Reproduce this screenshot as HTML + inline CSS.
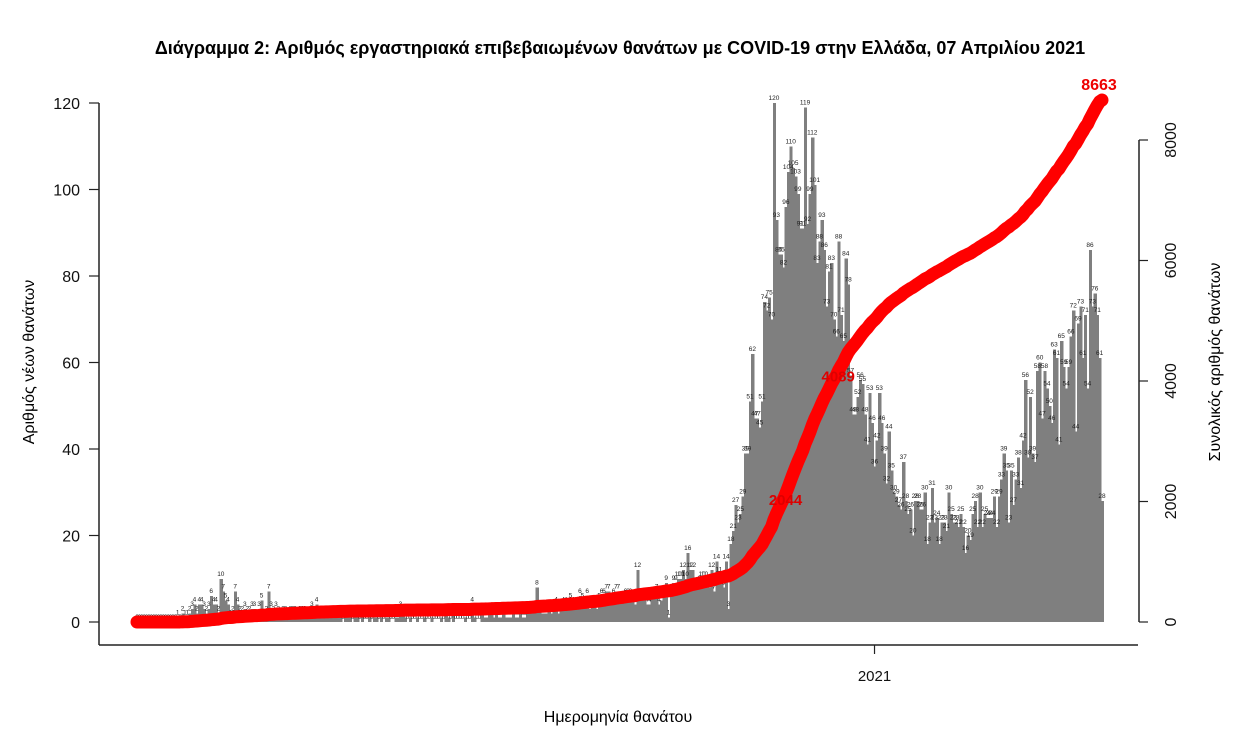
<!DOCTYPE html>
<html><head><meta charset="utf-8"><style>
body{margin:0;background:#fff;}
svg text{font-family:"Liberation Sans","DejaVu Sans",sans-serif;}
</style></head><body>
<svg id="chart" width="1244" height="739" viewBox="0 0 1244 739" xmlns="http://www.w3.org/2000/svg">
<text x="620" y="54" text-anchor="middle" font-size="18" font-weight="bold" fill="#000">Διάγραμμα 2: Αριθμός εργαστηριακά επιβεβαιωμένων θανάτων με COVID-19 στην Ελλάδα, 07 Απριλίου 2021</text>
<g id="bars" shape-rendering="crispEdges"></g>
<g id="barlabels"></g>
<g id="cum"></g>
<g id="axes"></g>
<text x="618" y="722" text-anchor="middle" font-size="16" fill="#000">Ημερομηνία θανάτου</text>
<text transform="translate(34,362) rotate(-90)" text-anchor="middle" font-size="16" fill="#000">Αριθμός νέων θανάτων</text>
<text transform="translate(1220,362) rotate(-90)" text-anchor="middle" font-size="16" fill="#000">Συνολικός αριθμός θανάτων</text>
</svg>
<script>
const daily = [
0,0,0,0,0,0,0,0,0,0,0,0,0,0,0,0,0,
1,0,2,1,1,2,3,4,2,4,4,3,2,3,
6,4,4,2,10,7,5,4,1,2,7,4,2,2,3,2,2,3,3,1,3,5,1,2,7,3,2,3,2,1,2,2,1,2,2,2,1,2,2,2,
1,1,3,1,4,1,2,1,1,1,2,1,1,2,1,0,1,2,1,0,1,1,0,1,0,
0,1,0,1,1,0,1,0,1,1,0,0,1,1,3,2,1,0,1,0,0,1,0,0,1,0,0,1,0,0,0,1,0,2,1,0,2,0,0,0,0,1,0,0,4,
1,0,0,2,1,1,2,2,1,2,1,1,2,1,1,1,2,1,1,2,1,1,2,2,3,3,8,3,2,2,
2,3,2,3,4,2,3,4,4,3,5,4,3,4,6,5,4,6,3,4,4,3,5,6,6,7,7,5,6,
7,7,5,5,6,6,6,5,4,12,5,5,5,4,4,6,6,7,4,5,6,9,1,6,9,9,10,10,12,10,16,12,12,8,8,9,10,10,9,8,12,7,14,11,10,8,14,3,
18,21,27,23,25,29,39,39,51,62,47,47,45,51,74,72,75,70,120,93,85,85,82,96,104,110,105,103,99,91,91,119,92,99,112,101,83,88,93,86,73,81,83,70,66,88,71,65,84,78,57,48,48,52,56,55,48,41,53,46,36,42,53,46,39,32,44,35,30,29,
27,26,37,28,25,26,20,28,28,26,26,30,18,23,31,23,24,18,23,23,21,30,25,23,23,22,25,22,16,20,19,25,28,22,30,22,25,24,24,24,29,22,29,33,39,35,23,35,27,33,38,31,42,56,38,52,39,37,58,60,47,58,54,50,46,63,61,41,65,59,54,59,66,72,44,69,73,61,71,54,86,73,76,71,61,28
];
const leftTicks = [0,20,40,60,80,100,120];
const rightTicks = [0,2000,4000,6000,8000];
const xTickLabels = ["2021"];
const xTickDays = [308];
const annotDays = [270, 292];

const NS="http://www.w3.org/2000/svg";
const X0=137, X1=1102, YB=622;
const dx=(X1-X0)/(daily.length-1);
const xs=i=>X0+i*dx;
const yl=v=>YB-v*(519/120);
const yr=v=>YB-v*(482/8000);
function mk(tag,attrs,parent,txt){const e=document.createElementNS(NS,tag);for(const k in attrs)e.setAttribute(k,attrs[k]);if(txt!==undefined)e.textContent=txt;parent.appendChild(e);return e;}

const gb=document.getElementById('bars'), gl=document.getElementById('barlabels');
daily.forEach((v,i)=>{
  const r=mk('rect',{x:(xs(i)-dx/2).toFixed(2),y:yl(v).toFixed(2),width:(dx+0.8).toFixed(2),height:(YB-yl(v)).toFixed(2),fill:'#7f7f7f'},gb);
  
  
  const t=mk('text',{x:xs(i).toFixed(2),y:(yl(v)-3).toFixed(2),'text-anchor':'middle','font-size':'6.5',fill:'#222'},gl,String(v));
  
  
});

const cum=[];let s=0;daily.forEach(v=>{s+=v;cum.push(s);});
const gc=document.getElementById('cum');
const pts=cum.map((c,i)=>xs(i).toFixed(2)+','+yr(c).toFixed(2)).join(' ');
const pl=mk('polyline',{points:pts,fill:'none',stroke:'#ff0000','stroke-width':'13','stroke-linecap':'round','stroke-linejoin':'round'},gc);


const last=cum.length-1;
const fl=mk('text',{x:(xs(last)-3).toFixed(1),y:(yr(cum[last])-10).toFixed(1),'text-anchor':'middle','font-size':'16','font-weight':'bold',fill:'#ee0000'},gc,String(cum[last]));


annotDays.forEach(d=>{
  const t=mk('text',{x:(xs(d)+2).toFixed(1),y:(yr(cum[d])+6).toFixed(1),'text-anchor':'middle','font-size':'15','font-weight':'bold',fill:'#dd0000'},gc,String(cum[d]));
  
  
});

const ga=document.getElementById('axes');
let e;
e=mk('line',{x1:99,y1:yl(120),x2:99,y2:645,stroke:'#222','stroke-width':1.5},ga);

e=mk('line',{x1:99,y1:645,x2:1138,y2:645,stroke:'#222','stroke-width':1.5},ga);

leftTicks.forEach(v=>{
  mk('line',{x1:89,y1:yl(v),x2:99,y2:yl(v),stroke:'#222','stroke-width':1.2},ga);
  const t=mk('text',{x:80,y:yl(v)+6,'text-anchor':'end','font-size':'16',fill:'#111'},ga,String(v));
  
  
});
e=mk('line',{x1:1139,y1:yr(8000),x2:1139,y2:yr(0),stroke:'#222','stroke-width':1.5},ga);

rightTicks.forEach(v=>{
  mk('line',{x1:1139,y1:yr(v),x2:1148,y2:yr(v),stroke:'#222','stroke-width':1.2},ga);
  const t=mk('text',{transform:'translate(1176,'+yr(v).toFixed(1)+') rotate(-90)','text-anchor':'middle','font-size':'16',fill:'#111'},ga,String(v));
  
  
});
xTickDays.forEach((d,k)=>{
  mk('line',{x1:xs(d),y1:645,x2:xs(d),y2:654,stroke:'#222','stroke-width':1.2},ga);
  const t=mk('text',{x:xs(d),y:681,'text-anchor':'middle','font-size':'15',fill:'#111'},ga,xTickLabels[k]);
  
  
});
</script>
</body></html>
